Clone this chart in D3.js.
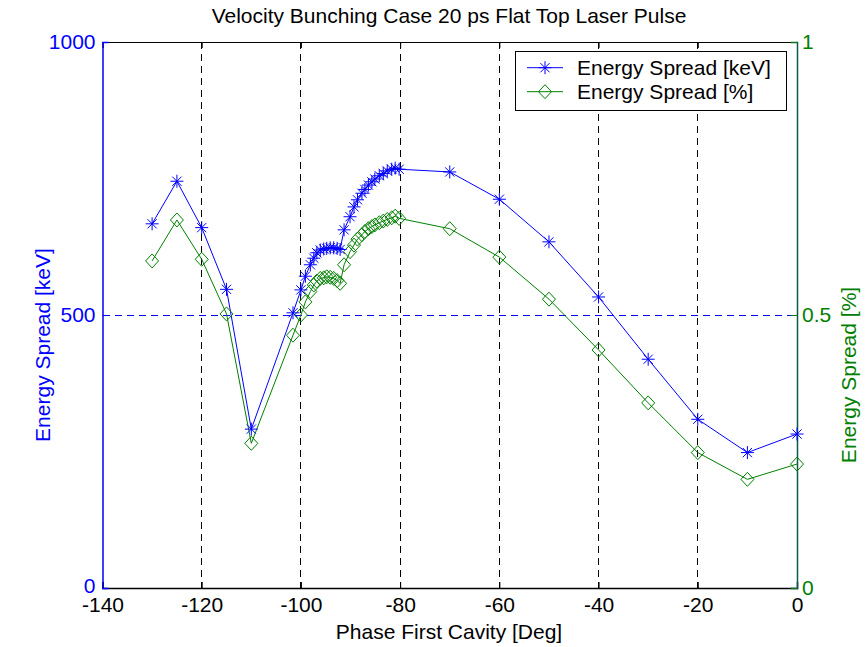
<!DOCTYPE html>
<html><head><meta charset="utf-8">
<script src="https://cdn.jsdelivr.net/npm/d3@7"></script>
<style>body{margin:0;background:#fff;} text{font-family:"Liberation Sans",Arial,sans-serif;}</style>
</head><body>
<svg id="chart" width="867" height="647"></svg>
<script>
const phase = [-130,-125,-120,-115,-110,-101.6,-100,-99.1,-98.1,-97.4,-96.8,-96.1,-95.4,-94.8,-94.1,-93.4,-92.7,-92.1,-91.3,-90.1,-89.3,-88.6,-87.7,-87.1,-86.4,-85.7,-85.1,-84.2,-83.4,-82.6,-81.7,-81.0,-80.2,-70,-60,-50,-40,-30,-20,-10,0];
const spreadKeV = [667,745,660,547,291,504,546,571,592,604,614,619,621,622,623,623,622,620,656,680,698,711,723,730,738,744,749,755,759,764,767,769,767,762,712,634,533,419,309,248,282];
const spreadPct = [0.599,0.674,0.602,0.502,0.265,0.463,0.500,0.524,0.543,0.555,0.562,0.567,0.568,0.570,0.569,0.567,0.563,0.558,0.592,0.616,0.628,0.639,0.647,0.653,0.658,0.662,0.665,0.669,0.672,0.675,0.678,0.681,0.677,0.658,0.606,0.529,0.436,0.339,0.248,0.199,0.227];
const xTicks = [-140,-120,-100,-80,-60,-40,-20,0];
const yLeftTicks = [0,500,1000];
const yRightTicks = [0,0.5,1];
const title = "Velocity Bunching Case 20 ps Flat Top Laser Pulse";
const xLabel = "Phase First Cavity [Deg]";
const yLeftLabel = "Energy Spread [keV]";
const yRightLabel = "Energy Spread [%]";
const legendLabels = ["Energy Spread [keV]","Energy Spread [%]"];

const L=102.5, R=797, T=42, B=588;
const BLUE="#0000ff", GREEN="#008000";
const FS=21;
const svg=d3.select("#chart");
const x=d3.scaleLinear().domain([-140,0]).range([L,R]);
const yL=d3.scaleLinear().domain([0,1000]).range([B,T]);
const yR=d3.scaleLinear().domain([0,1]).range([B,T]);
const plain=d=>String(d);

// grid
const g=svg.append("g").attr("shape-rendering","crispEdges");
xTicks.filter(t=>t>-140&&t<0).forEach(t=>{
  g.append("line").attr("x1",x(t)).attr("x2",x(t)).attr("y1",T).attr("y2",B)
   .attr("stroke","#000").attr("stroke-width",1).attr("stroke-dasharray","7,5");
});
yLeftTicks.filter(t=>t>0&&t<1000).forEach(t=>{
  g.append("line").attr("x1",L).attr("x2",R).attr("y1",yL(t)).attr("y2",yL(t))
   .attr("stroke","#0000ff").attr("stroke-width",1).attr("stroke-dasharray","7,5");
});

// axes
const axB=d3.axisBottom(x).tickValues(xTicks).tickSize(-6).tickPadding(9).tickFormat(plain);
const gb=svg.append("g").attr("transform",`translate(0,${B})`).call(axB);
gb.select(".domain").attr("stroke","#000").attr("stroke-width",1.5);
gb.selectAll("text").attr("font-size",FS).attr("fill","#000").attr("font-family","Liberation Sans, Arial, sans-serif");
gb.selectAll(".tick line").attr("stroke","#000");
const axT=d3.axisTop(x).tickValues(xTicks).tickSize(-6).tickFormat("");
const gt=svg.append("g").attr("transform",`translate(0,${T})`).call(axT);
gt.select(".domain").attr("stroke","#000");
const axLft=d3.axisLeft(yL).tickValues(yLeftTicks).tickSize(-6).tickPadding(7).tickFormat(plain);
const gl=svg.append("g").attr("transform",`translate(${L},0)`).call(axLft);
gl.select(".domain").attr("stroke",BLUE).attr("stroke-width",1.5);
gl.selectAll(".tick line").attr("stroke",BLUE);
gl.selectAll("text").attr("font-size",FS).attr("fill",BLUE).attr("font-family","Liberation Sans, Arial, sans-serif");
gl.selectAll(".tick").filter(d=>d===0).select("text").attr("y",-2);
const axRt=d3.axisRight(yR).tickValues(yRightTicks).tickSize(-6).tickPadding(5).tickFormat(plain);
const gr=svg.append("g").attr("transform",`translate(${R},0)`).call(axRt);
gr.select(".domain").attr("stroke","#0a5a50").attr("stroke-width",1.5);
gr.selectAll(".tick line").attr("stroke",GREEN);
gr.selectAll("text").attr("font-size",FS).attr("fill",GREEN).attr("font-family","Liberation Sans, Arial, sans-serif");

// lines
const lineB=d3.line().x((d,i)=>x(phase[i])).y(d=>yL(d));
const lineG=d3.line().x((d,i)=>x(phase[i])).y(d=>yR(d));
svg.append("path").datum(spreadKeV).attr("d",lineB).attr("fill","none").attr("stroke",BLUE).attr("stroke-width",1);
svg.append("path").datum(spreadPct).attr("d",lineG).attr("fill","none").attr("stroke",GREEN).attr("stroke-width",1);

function star(sel,cx,cy){
  const s=6.5, d=4.6;
  const p=`M${cx-s},${cy}L${cx+s},${cy}M${cx},${cy-s}L${cx},${cy+s}M${cx-d},${cy-d}L${cx+d},${cy+d}M${cx-d},${cy+d}L${cx+d},${cy-d}`;
  sel.append("path").attr("d",p).attr("stroke",BLUE).attr("stroke-width",1).attr("fill","none");
}
function diamond(sel,cx,cy){
  const w=6.5,h=7;
  sel.append("path").attr("d",`M${cx},${cy-h}L${cx+w},${cy}L${cx},${cy+h}L${cx-w},${cy}Z`)
   .attr("stroke",GREEN).attr("stroke-width",1).attr("fill","none");
}
const mk=svg.append("g");
spreadPct.forEach((v,i)=>diamond(mk,x(phase[i]),yR(v)));
spreadKeV.forEach((v,i)=>star(mk,x(phase[i]),yL(v)));

// texts
svg.append("text").attr("x",449).attr("y",23).attr("text-anchor","middle").attr("font-size",FS).attr("fill","#000").text(title);
svg.append("text").attr("x",449).attr("y",639).attr("text-anchor","middle").attr("font-size",FS).attr("fill","#000").text(xLabel);
svg.append("text").attr("transform",`translate(50,345) rotate(-90)`).attr("text-anchor","middle").attr("font-size",FS).attr("fill",BLUE).text(yLeftLabel);
svg.append("text").attr("transform",`translate(856,375) rotate(-90)`).attr("text-anchor","middle").attr("font-size",FS).attr("fill",GREEN).text(yRightLabel);

// legend
const lg=svg.append("g");
lg.append("rect").attr("x",515.5).attr("y",51.5).attr("width",271).attr("height",59).attr("fill","#fff").attr("stroke","#000").attr("stroke-width",1);
const rows=[67.7,91.7];
lg.append("line").attr("x1",527).attr("x2",563).attr("y1",rows[0]).attr("y2",rows[0]).attr("stroke",BLUE);
star(lg,545,rows[0]);
lg.append("line").attr("x1",527).attr("x2",563).attr("y1",rows[1]).attr("y2",rows[1]).attr("stroke",GREEN);
diamond(lg,545,rows[1]);
legendLabels.forEach((t,i)=>lg.append("text").attr("x",577).attr("y",rows[i]).attr("dy","0.36em").attr("font-size",FS).attr("fill","#000").text(t));
</script>
</body></html>
